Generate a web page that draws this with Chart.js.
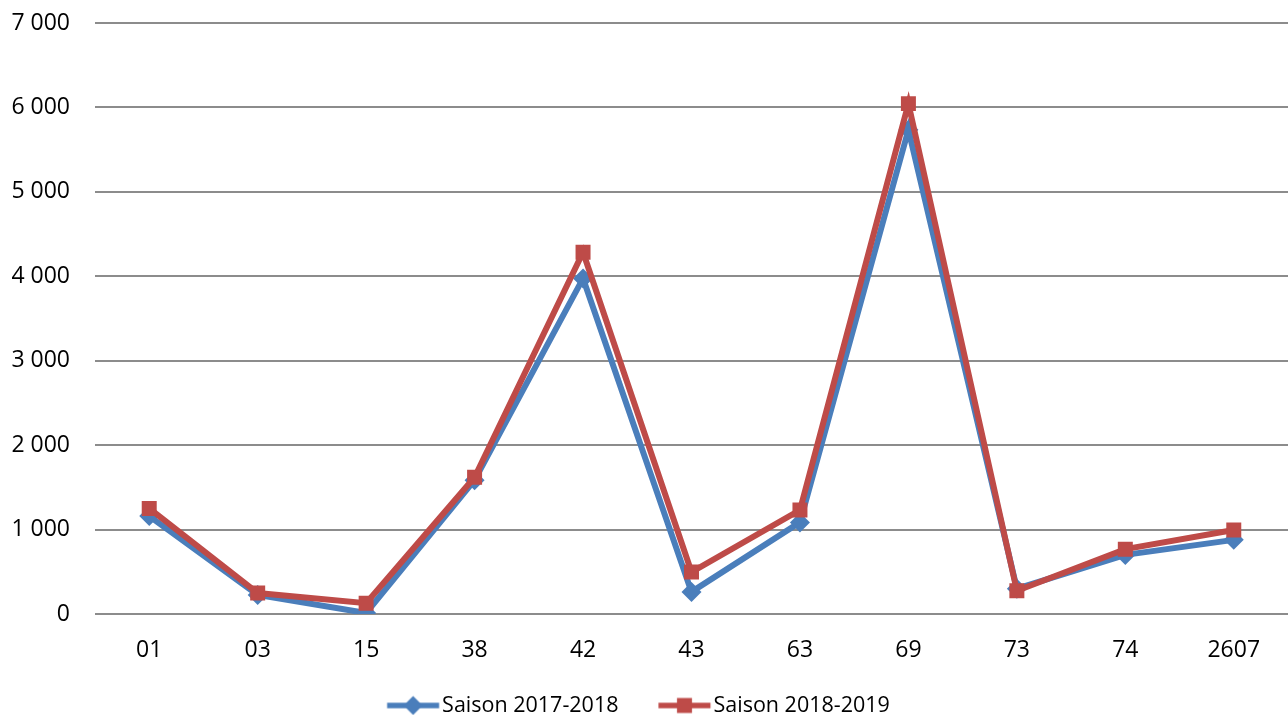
<!DOCTYPE html>
<html>
<head>
<meta charset="utf-8">
<script src="https://cdn.jsdelivr.net/npm/chart.js@4/dist/chart.umd.min.js"></script>
<style>
  html, body { margin: 0; padding: 0; background: #ffffff; overflow: hidden; }
  #wrap { width: 1288px; height: 715px; position: relative; }
</style>
</head>
<body>
<div id="wrap"><canvas id="c"></canvas></div>
<script>
const categories = ["01", "03", "15", "38", "42", "43", "63", "69", "73", "74", "2607"];
const season2017 = [1160, 225, 12, 1585, 3975, 262, 1085, 5735, 300, 700, 878];
const season2018 = [1250, 248, 128, 1620, 4285, 497, 1232, 6045, 275, 768, 994];
const seriesNames = ["Saison 2017-2018", "Saison 2018-2019"];
const yTicks = [0, 1000, 2000, 3000, 4000, 5000, 6000, 7000];

const BLUE = '#4A7EBB';
const RED = '#BE4B48';
const FONT = "'Open Sans', 'Liberation Sans', sans-serif";
const FS = 23;
const LFS = 21.5;
const EXTRA = -11;                   // offset of each legend symbol from its item start
const LINE_LEN = 52;
const PW = EXTRA + LINE_LEN + 3 - LFS / 2;   // legend symbol box width
const LPAD = 40 - EXTRA;

function legendIcon(color, shape) {
  const c = document.createElement('canvas');
  c.width = 200; c.height = 24;
  const g = c.getContext('2d');
  const cy = 12;
  const x0 = EXTRA - PW / 2 + 100;
  const cx = x0 + LINE_LEN / 2;
  g.strokeStyle = color; g.lineWidth = 5.5;
  g.beginPath(); g.moveTo(x0, cy); g.lineTo(x0 + LINE_LEN, cy); g.stroke();
  g.fillStyle = color;
  g.beginPath();
  if (shape === 'diamond') {
    const r = 9.5;
    g.moveTo(cx, cy - r); g.lineTo(cx + r, cy); g.lineTo(cx, cy + r); g.lineTo(cx - r, cy); g.closePath();
  } else {
    const h = 7.5;
    g.rect(cx - h, cy - h, 2 * h, 2 * h);
  }
  g.fill();
  return c;
}
const icons = [legendIcon(BLUE, 'diamond'), legendIcon(RED, 'square')];

function fmt(v) {
  return String(v).replace(/\B(?=(\d{3})+(?!\d))/g, ' ');
}

new Chart(document.getElementById('c'), {
  type: 'line',
  data: {
    labels: categories,
    datasets: [
      {
        label: seriesNames[0],
        data: season2017,
        borderColor: BLUE,
        backgroundColor: BLUE,
        borderWidth: 6,
        pointStyle: 'rectRot',
        pointRadius: 10,
        pointHoverRadius: 10,
        pointBorderWidth: 0,
        tension: 0,
        order: 1
      },
      {
        label: seriesNames[1],
        data: season2018,
        borderColor: RED,
        backgroundColor: RED,
        borderWidth: 6,
        pointStyle: 'rect',
        pointRadius: 10.6,
        pointHoverRadius: 10.6,
        pointBorderWidth: 0,
        tension: 0,
        order: 0
      }
    ]
  },
  options: {
    responsive: true,
    maintainAspectRatio: false,
    animation: false,
    devicePixelRatio: 1,
    layout: { autoPadding: false, padding: { top: 23, right: 0, left: 0, bottom: -11.2 } },
    plugins: {
      tooltip: { enabled: false },
      legend: {
        display: true,
        position: 'bottom',
        labels: {
          usePointStyle: true,
          pointStyleWidth: PW,
          padding: LPAD,
          color: '#000000',
          font: { family: FONT, size: LFS },
          generateLabels: (chart) => chart.data.datasets.map((ds, i) => ({
            text: ds.label,
            pointStyle: icons[i],
            fillStyle: ds.borderColor,
            strokeStyle: ds.borderColor,
            lineWidth: 0,
            hidden: false,
            datasetIndex: i,
            fontColor: '#000000'
          }))
        }
      }
    },
    scales: {
      x: {
        type: 'category',
        offset: true,
        grid: { display: false, drawTicks: false },
        border: { display: false },
        afterFit: (axis) => { axis.height = 29.7; axis.paddingRight = 0; axis.paddingLeft = 0; },
        ticks: {
          color: '#000000',
          font: { family: FONT, size: FS },
          mirror: true,
          padding: -50.5,
          maxRotation: 0,
          autoSkip: false
        }
      },
      y: {
        min: 0,
        max: 7000,
        afterBuildTicks: (axis) => { axis.ticks = yTicks.map(v => ({ value: v })); },
        afterFit: (axis) => { axis.width = 95; axis.paddingTop = 0; axis.paddingBottom = 0; },
        grid: { color: '#8C8C8C', lineWidth: 2, drawTicks: false },
        border: { display: false },
        ticks: {
          color: '#000000',
          font: { family: FONT, size: FS },
          padding: 25,
          callback: (v) => fmt(v)
        }
      }
    }
  }
});
</script>
</body>
</html>
